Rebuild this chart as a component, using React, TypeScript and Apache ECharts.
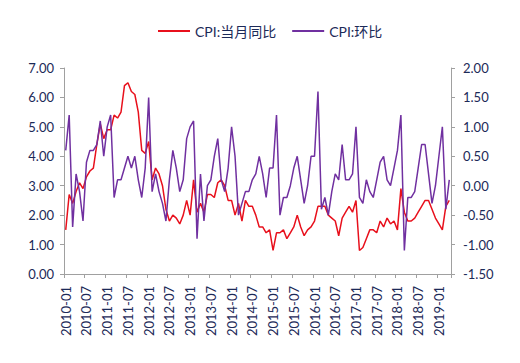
import React, { useEffect, useRef } from "react";
import * as echarts from "echarts";

const years = [2010, 2011, 2012, 2013, 2014, 2015, 2016, 2017, 2018, 2019];
const months = ["01", "02", "03", "04", "05", "06", "07", "08", "09", "10", "11", "12"];

const cpiYoY = [
  1.5, 2.7, 2.4, 2.8, 3.1, 2.9, 3.3, 3.5, 3.6, 4.4, 5.1, 4.6,
  4.9, 4.9, 5.4, 5.3, 5.5, 6.4, 6.5, 6.2, 6.1, 5.5, 4.2, 4.1,
  4.5, 3.2, 3.6, 3.4, 3.0, 2.2, 1.8, 2.0, 1.9, 1.7, 2.0, 2.5,
  2.0, 3.2, 2.1, 2.4, 2.1, 2.7, 2.7, 2.6, 3.1, 3.2, 3.0, 2.5,
  2.5, 2.0, 2.4, 1.8, 2.5, 2.3, 2.3, 2.0, 1.6, 1.6, 1.4, 1.5,
  0.8, 1.4, 1.4, 1.5, 1.2, 1.4, 1.6, 2.0, 1.6, 1.3, 1.5, 1.6,
  1.8, 2.3, 2.3, 2.3, 2.0, 1.9, 1.8, 1.3, 1.9, 2.1, 2.3, 2.1,
  2.5, 0.8, 0.9, 1.2, 1.5, 1.5, 1.4, 1.8, 1.6, 1.9, 1.7, 1.8,
  1.5, 2.9, 2.1, 1.8, 1.8, 1.9, 2.1, 2.3, 2.5, 2.5, 2.2, 1.9,
  1.7, 1.5, 2.3, 2.5,
];

const cpiMoM = [
  0.6, 1.2, -0.7, 0.2, -0.1, -0.6, 0.4, 0.6, 0.6, 0.7, 1.1, 0.5,
  1.0, 1.2, -0.2, 0.1, 0.1, 0.3, 0.5, 0.3, 0.5, 0.1, -0.2, 0.3,
  1.5, -0.1, 0.2, -0.1, -0.3, -0.6, 0.1, 0.6, 0.3, -0.1, 0.1, 0.8,
  1.0, 1.1, -0.9, 0.2, -0.6, 0.0, 0.1, 0.5, 0.8, 0.1, -0.1, 0.3,
  1.0, 0.5, -0.5, -0.3, -0.1, -0.1, 0.1, 0.2, 0.5, 0.2, -0.2, 0.3,
  0.3, 1.2, -0.5, -0.2, -0.2, 0.0, 0.3, 0.5, 0.1, -0.3, 0.0, 0.5,
  0.5, 1.6, -0.4, -0.2, -0.5, -0.1, 0.2, 0.1, 0.7, 0.1, 0.1, 0.2,
  1.0, -0.2, -0.3, 0.1, -0.1, -0.2, 0.1, 0.4, 0.5, 0.1, 0.0, 0.3,
  0.6, 1.2, -1.1, -0.2, -0.2, -0.1, 0.3, 0.7, 0.7, 0.2, -0.3, 0.0,
  0.5, 1.0, -0.4, 0.1,
];

const categories: string[] = [];
years.forEach((y) => months.forEach((m) => categories.push(`${y}-${m}`)));
categories.length = cpiYoY.length;

const seriesNames = ["CPI:当月同比", "CPI:环比"];

const textColor = "#1c2a58";
const axisColor = "#a0a0a0";
const font = "Lato, 'Noto Sans CJK SC', sans-serif";

export default function App() {
  const ref = useRef<HTMLDivElement>(null);
  useEffect(() => {
    if (!ref.current) return;
    document.body.style.margin = "0";
    const chart = echarts.init(ref.current, undefined, { renderer: "svg" });
    chart.setOption({
      animation: false,
      textStyle: { fontFamily: font },
      legend: {
        top: 19,
        left: 153,
        itemWidth: 32,
        itemHeight: 2,
        itemGap: 16,
        icon: "rect",
        textStyle: { color: textColor, fontSize: 14, fontFamily: font },
        data: seriesNames,
      },
      grid: { left: 64, right: 69, top: 68, bottom: 89 },
      xAxis: {
        type: "category",
        data: categories,
        boundaryGap: true,
        axisLine: { lineStyle: { color: axisColor } },
        axisTick: { show: true, interval: 5, length: 4, lineStyle: { color: axisColor } },
        axisLabel: {
          interval: 5,
          rotate: 90,
          color: textColor,
          fontSize: 13,
          margin: 12,
          fontFamily: font,
        },
      },
      yAxis: [
        {
          type: "value",
          min: 0,
          max: 7,
          interval: 1,
          position: "left",
          splitLine: { show: false },
          axisLine: { show: true, lineStyle: { color: axisColor } },
          axisTick: { show: true, length: 4, lineStyle: { color: axisColor } },
          axisLabel: {
            color: textColor,
            fontSize: 13,
            margin: 10,
            fontFamily: font,
            formatter: (v: number) => v.toFixed(2),
          },
        },
        {
          type: "value",
          min: -1.5,
          max: 2,
          interval: 0.5,
          position: "right",
          splitLine: { show: false },
          axisLine: { show: true, lineStyle: { color: axisColor } },
          axisTick: { show: true, length: 4, lineStyle: { color: axisColor } },
          axisLabel: {
            color: textColor,
            fontSize: 13,
            margin: 12,
            fontFamily: font,
            formatter: (v: number) => v.toFixed(2),
          },
        },
      ],
      series: [
        {
          name: seriesNames[0],
          type: "line",
          yAxisIndex: 0,
          data: cpiYoY,
          showSymbol: false,
          symbol: "none",
          lineStyle: { color: "#e8101c", width: 1.5 },
          itemStyle: { color: "#e8101c" },
        },
        {
          name: seriesNames[1],
          type: "line",
          yAxisIndex: 1,
          data: cpiMoM,
          showSymbol: false,
          symbol: "none",
          lineStyle: { color: "#7030a0", width: 1.5 },
          itemStyle: { color: "#7030a0" },
        },
      ],
    });
    return () => chart.dispose();
  }, []);
  return <div ref={ref} style={{ width: 520, height: 363 }} />;
}
